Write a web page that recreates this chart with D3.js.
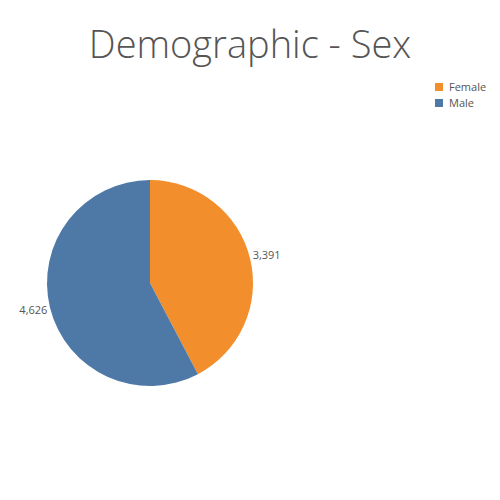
<!DOCTYPE html>
<html><head><meta charset="utf-8">
<script src="https://cdn.jsdelivr.net/npm/d3@7"></script>
<style>body{margin:0;background:#fff}</style>
</head><body>
<svg id="chart" width="500" height="500"></svg>
<script>
// Catégories et valeurs
const categories = ["Female", "Male"];
const values = [3391, 4626];
const colors = ["#f28e2b", "#4e79a7"];

const svg = d3.select("#chart");
const font = "'Open Sans', sans-serif";

// Titre
svg.append("text")
    .attr("x", 250).attr("y", 58)
    .attr("text-anchor", "middle")
    .attr("font-family", font).attr("font-size", 38).attr("font-weight", 300)
    .attr("fill", "#555")
    .text("Demographic - Sex");

// Camembert
const cx = 150, cy = 283, r = 103;
const pie = d3.pie().sort(null).value(d => d)(values);
const arc = d3.arc().innerRadius(0).outerRadius(r);
const g = svg.append("g").attr("transform", `translate(${cx},${cy})`);
g.selectAll("path").data(pie).enter().append("path")
    .attr("d", arc)
    .attr("fill", (d, i) => colors[i]);

// Étiquettes
const labelArc = d3.arc().innerRadius(r + 16).outerRadius(r + 16);
g.selectAll("text.lbl").data(pie).enter().append("text")
    .attr("class", "lbl")
    .each(function(d) {
        const mid = (d.startAngle + d.endAngle) / 2;
        const a = mid - Math.PI / 2;
        const rr = r + 12;
        d3.select(this)
            .attr("x", Math.cos(a) * rr + (Math.cos(a) > 0 ? -9 : 9))
            .attr("y", Math.sin(a) * rr)
            .attr("text-anchor", Math.cos(a) > 0 ? "start" : "end");
    })
    .attr("dy", "0.35em")
    .attr("font-family", font).attr("font-size", 11).attr("fill", "#555")
    .text(d => d3.format(",")(d.value));

// Légende
const legend = svg.append("g").attr("transform", "translate(435,83)");
categories.forEach((c, i) => {
    legend.append("rect").attr("x", 0).attr("y", i * 16)
        .attr("width", 8).attr("height", 8).attr("fill", colors[i]);
    legend.append("text").attr("x", 14).attr("y", i * 16 + 4)
        .attr("dy", "0.35em")
        .attr("font-family", font).attr("font-size", 11).attr("fill", "#555")
        .text(c);
});
</script>
</body></html>
